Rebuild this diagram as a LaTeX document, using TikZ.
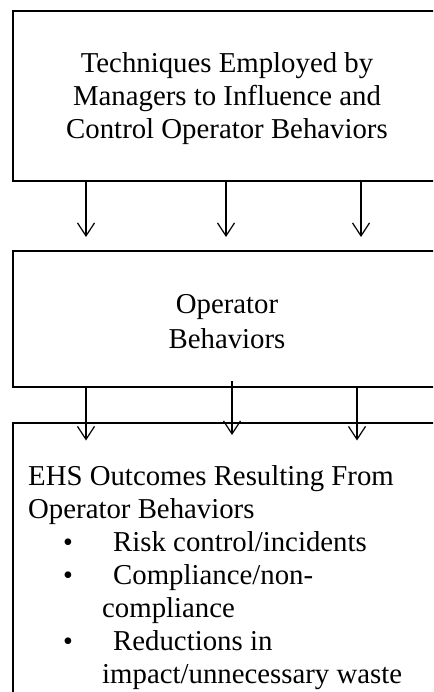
\documentclass[tikz,border=0pt]{standalone}
\usepackage{fontspec}
\setmainfont{Liberation Serif}
\usetikzlibrary{arrows.meta}
\begin{document}
\begin{tikzpicture}[x=1pt,y=-1pt,
  box/.style={draw,line width=2pt,inner sep=0pt,outer sep=0pt,anchor=north west,minimum width=428pt},
  conn/.style={line width=1.2pt,-{Straight Barb[length=13pt,width=17pt,line width=1.2pt]}},
  txt/.style={inner sep=0pt,font=\fontsize{28.8}{33}\selectfont},
  ctxt/.style={txt,anchor=base},
  ltxt/.style={txt,anchor=base west},
  bul/.style={inner sep=0pt,anchor=base,font=\fontsize{28}{32}\selectfont}]
\useasboundingbox (0,0) rectangle (433,692);
\begin{scope}
\clip (0,0) rectangle (433,692);
% boxes
\node[box,minimum height=170.5pt] (top) at (13,11) {};
\node[box,minimum height=136pt] (mid) at (13,251) {};
\node[box,minimum height=300pt] (bot) at (13,423) {};
% texts top
\node[ctxt] (t1) at (227,73) {Techniques Employed by};
\node[ctxt] (t2) at (227,106) {Managers to Influence and};
\node[ctxt] (t3) at (227,139) {Control Operator Behaviors};
% texts middle
\node[ctxt] (m1) at (227,313) {Operator};
\node[ctxt] (m2) at (227,348) {Behaviors};
% texts bottom
\node[ltxt] (b1) at (28,485) {EHS Outcomes Resulting From};
\node[ltxt] (b2) at (28,518) {Operator Behaviors};
\node[bul] (u1) at (68,551) {•};
\node[ltxt] (b3) at (113,551) {Risk control/incidents};
\node[bul] (u2) at (68,584) {•};
\node[ltxt] (b4) at (113,584) {Compliance/non-};
\node[ltxt] (b5) at (102,617) {compliance};
\node[bul] (u3) at (68,650) {•};
\node[ltxt] (b6) at (113,650) {Reductions in};
\node[ltxt] (b7) at (102,683) {impact/unnecessary waste};
% arrows top -> mid
\coordinate (e1) at (86,237);
\coordinate (e2) at (226,237);
\coordinate (e3) at (361,237);
\coordinate (s2) at (226,180);
\draw[conn] (top.south -| e1) -- (e1);
\draw[conn] (s2) -- (e2);
\draw[conn] (top.south -| e3) -- (e3);
% arrows mid -> bottom
\coordinate (f1) at (86,440.5);
\coordinate (f2) at (232,435);
\coordinate (f3) at (357,440.5);
\coordinate (r2) at (232,381);
\draw[conn] (mid.south -| f1) -- (f1);
\draw[conn] (r2) -- (f2);
\draw[conn] (mid.south -| f3) -- (f3);
\end{scope}
\end{tikzpicture}
\end{document}
